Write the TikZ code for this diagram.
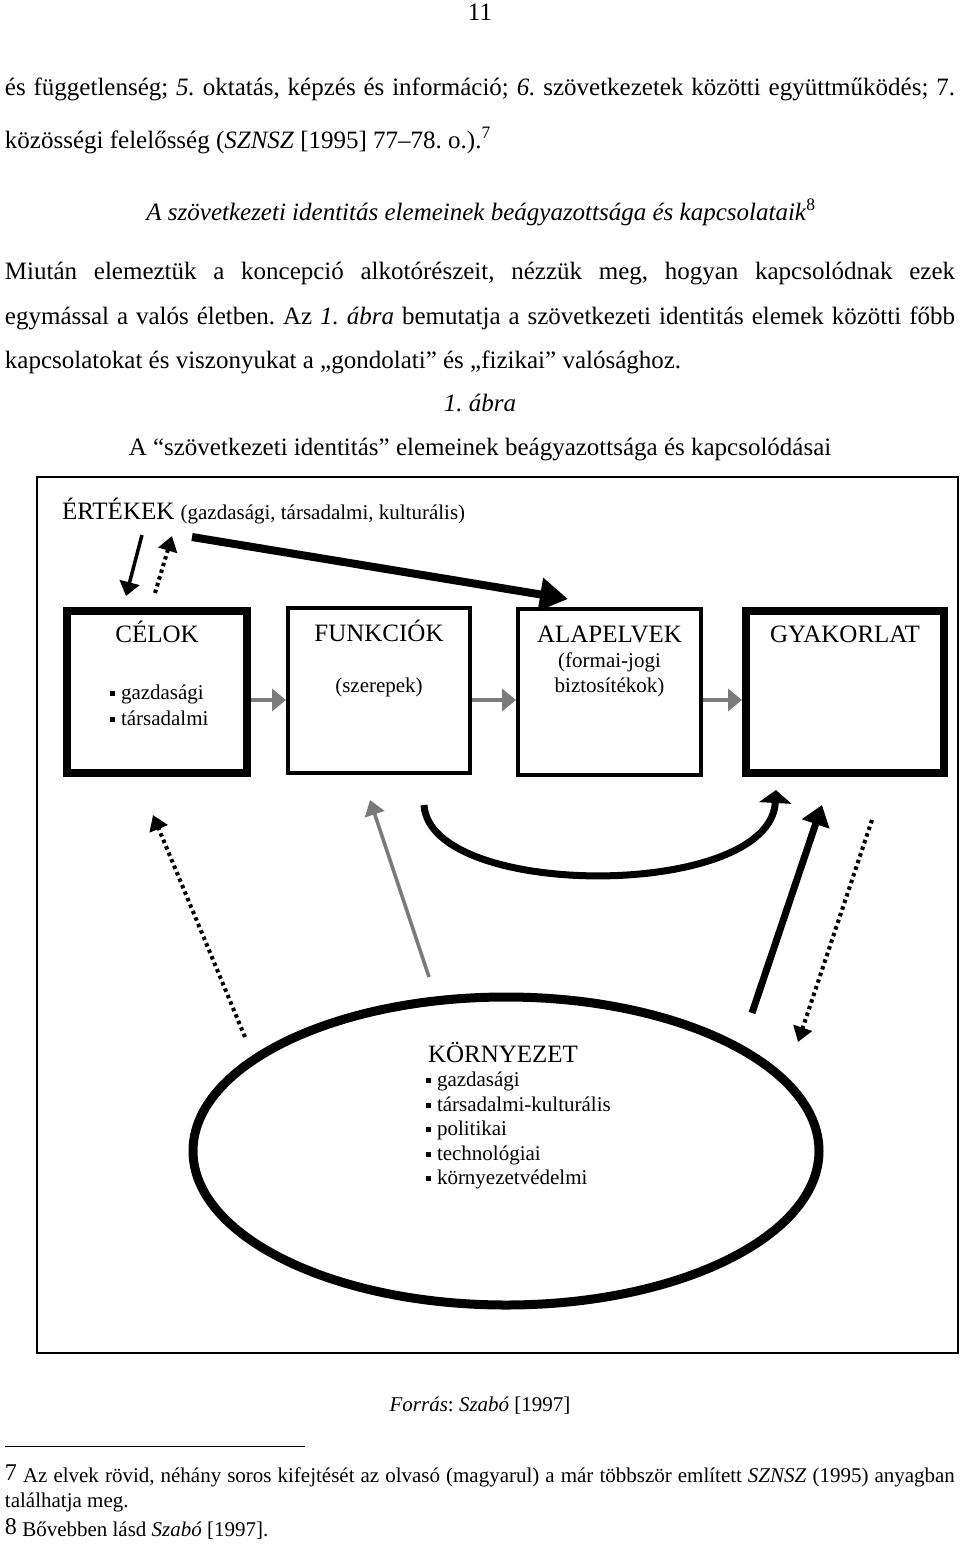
\documentclass[tikz,border=0pt]{standalone}
\usepackage{fontspec}
\setmainfont{Liberation Serif}
\usetikzlibrary{arrows.meta,shapes.geometric}
\definecolor{arrgray}{HTML}{7A7A7A}
\newcommand{\sqb}{\raisebox{3.5pt}{\rule{5pt}{5pt}}\hspace{6pt}}
\frenchspacing
\begin{document}
\frenchspacing
\begin{tikzpicture}[x=1pt,y=-1pt,
  txt/.style={inner sep=0,outer sep=0,anchor=base},
  body/.style={font=\fontsize{25}{30}\selectfont},
  small/.style={font=\fontsize{21}{25}\selectfont},
  thickbox/.style={draw,line width=8,inner sep=0},
  thinbox/.style={draw,line width=4,inner sep=0},
  grayarr/.style={draw=arrgray,line width=4.5,-{Triangle[length=14,width=22]}},
  longgray/.style={draw=arrgray,line width=3.5,-{Triangle[length=15,width=20]}},
  solidsmall/.style={line width=3.5,-{Triangle[length=14,width=20]}},
  dotarr/.style={line width=4,dash pattern=on 3.5pt off 3.5pt,-{Triangle[length=15,width=19]}},
  bigarr/.style={line width=8,-{Triangle[length=28,width=32]}},
  curvearr/.style={line width=7,-{Triangle[length=13,width=32]}},
  solidbig/.style={line width=7,-{Triangle[length=20,width=28]}}
]
\useasboundingbox[fill=white] (0,0) rectangle (960,1545);

% ---- running text ----
\node[body,txt] (pnum) at (480,20) {11};
\node[body,txt,anchor=base west] (l1) at (5,95) {\makebox[950pt][s]{és függetlenség; \textit{5.} oktatás, képzés és információ; \textit{6.} szövetkezetek közötti együttműködés; 7.}};
\node[body,txt,anchor=base west] (l2) at (5,148) {közösségi felelősség (\textit{SZNSZ} [1995] 77–78. o.).\textsuperscript{7}};
\node[body,txt] (head) at (481,220) {\textit{A szövetkezeti identitás elemeinek beágyazottsága és kapcsolataik}\textsuperscript{8}};
\node[body,txt,anchor=base west] (p1) at (5,279) {\makebox[950pt][s]{Miután elemeztük a koncepció alkotórészeit, nézzük meg, hogyan kapcsolódnak ezek}};
\node[body,txt,anchor=base west] (p2) at (5,324) {\makebox[950pt][s]{egymással a valós életben. Az \textit{1. ábra} bemutatja a szövetkezeti identitás elemek közötti főbb}};
\node[body,txt,anchor=base west] (p3) at (5,368) {kapcsolatokat és viszonyukat a „gondolati” és „fizikai” valósághoz.};
\node[body,txt] (fig) at (480,411) {\textit{1. ábra}};
\node[body,txt] (cap) at (480,455) {A “szövetkezeti identitás” elemeinek beágyazottsága és kapcsolódásai};

% ---- frame ----
\node[draw,line width=1.8,minimum width=921,minimum height=876,inner sep=0] (frame) at (497.5,915) {};

\node[txt,anchor=base west] (ert) at (62,519) {{\fontsize{25}{30}\selectfont ÉRTÉKEK }{\fontsize{21}{25}\selectfont(gazdasági, társadalmi, kulturális)}};

% ---- boxes ----
\node[thickbox,minimum width=180,minimum height=162] (celok) at (157,692) {};
\node[thinbox,minimum width=182,minimum height=165] (funk) at (379,690.5) {};
\node[thinbox,minimum width=183,minimum height=166] (alap) at (609.5,692) {};
\node[thickbox,minimum width=198,minimum height=162] (gyak) at (845,692) {};

\node[body,txt] (celt) at (157,642) {CÉLOK};
\node[small,txt,anchor=base west] (cel1) at (110,699) {\sqb gazdasági};
\node[small,txt,anchor=base west] (cel2) at (110,725) {\sqb társadalmi};
\node[body,txt] (funt) at (379,641) {FUNKCIÓK};
\node[small,txt] (fun1) at (379,692) {(szerepek)};
\node[body,txt] (alat) at (609.5,642) {ALAPELVEK};
\node[small,txt] (ala1) at (609.5,667) {(formai-jogi};
\node[small,txt] (ala2) at (609.5,692) {biztosítékok)};
\node[body,txt] (gyat) at (845,642) {GYAKORLAT};

\coordinate (ga) at (0,700);
\draw[grayarr] (celok.east |- ga) -- (funk.west |- ga);
\draw[grayarr] (funk.east |- ga) -- (alap.west |- ga);
\draw[grayarr] (alap.east |- ga) -- (gyak.west |- ga);

% ---- top arrows ----
\coordinate (a1s) at (142,535);
\coordinate (a1e) at (126,596);
\coordinate (a2s) at (155,593);
\coordinate (a2e) at (172,536);
\coordinate (a3s) at (192,537);
\coordinate (a3e) at (568,599);
\draw[solidsmall] (a1s) -- (a1e);
\draw[dotarr] (a2s) -- (a2e);
\draw[bigarr] (a3s) -- (a3e);

% ---- environment ----
\node[ellipse,draw,line width=9,minimum width=626,minimum height=308,inner sep=0] (env) at (506,1151) {};
\node[body,txt,anchor=base west] (envt) at (428,1062) {KÖRNYEZET};
\node[small,txt,anchor=base west] (e1) at (426,1086) {\sqb gazdasági};
\node[small,txt,anchor=base west] (e2) at (426,1111) {\sqb társadalmi-kulturális};
\node[small,txt,anchor=base west] (e3) at (426,1135) {\sqb politikai};
\node[small,txt,anchor=base west] (e4) at (426,1160) {\sqb technológiai};
\node[small,txt,anchor=base west] (e5) at (426,1184) {\sqb környezetvédelmi};

% ---- bottom arrows ----
\coordinate (b1s) at (245,1037);
\coordinate (b1e) at (153,815);
\coordinate (b2s) at (429,977);
\coordinate (b2e) at (370,800);
\coordinate (b3s) at (424,805);
\coordinate (b3e) at (776,790);
\coordinate (b4s) at (752,1013);
\coordinate (b4e) at (822,805);
\coordinate (b5s) at (872,820);
\coordinate (b5e) at (798,1042);
\draw[dotarr] (b1s) -- (b1e);
\draw[longgray] (b2s) -- (b2e);
\draw[curvearr] (b3s) .. controls (430,900) and (770,900) .. (b3e);
\draw[solidbig] (b4s) -- (b4e);
\draw[dotarr] (b5s) -- (b5e);

% ---- source and footnotes ----
\node[small,txt] (src) at (480,1411) {\textit{Forrás}: \textit{Szabó} [1997]};
\coordinate (r1) at (5,1446);
\coordinate (r2) at (305,1446);
\draw[line width=1] (r1) -- (r2);
\node[small,txt,anchor=base west] (fn1) at (5,1482) {\makebox[950pt][s]{\raisebox{2pt}{\fontsize{24}{25}\selectfont 7} Az elvek rövid, néhány soros kifejtését az olvasó (magyarul) a már többször említett \textit{SZNSZ} (1995) anyagban}};
\node[small,txt,anchor=base west] (fn2) at (5,1507) {találhatja meg.};
\node[small,txt,anchor=base west] (fn3) at (5,1536) {\raisebox{2pt}{\fontsize{24}{25}\selectfont 8} Bővebben lásd \textit{Szabó} [1997].};
\end{tikzpicture}
\end{document}
